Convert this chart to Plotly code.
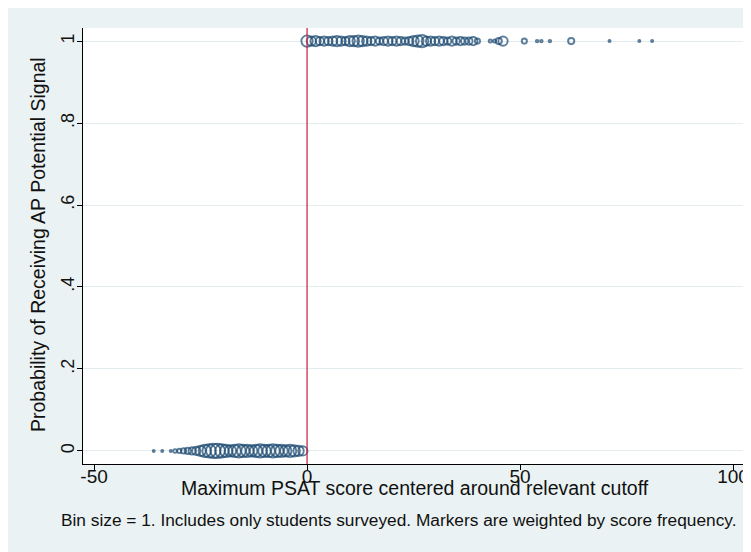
import plotly.graph_objects as go

# Data: score bins (centered at cutoff) and frequencies (marker weights)
below_x = [-36, -34, -32, -31, -30, -29, -28, -27, -26, -25, -24, -23, -22, -21, -20,
           -19, -18, -17, -16, -15, -14, -13, -12, -11, -10, -9, -8, -7, -6, -5,
           -4, -3, -2, -1]
below_freq = [4, 4, 4, 12, 16, 25, 36, 49, 64, 100, 144, 169, 196, 196, 169,
              144, 121, 144, 169, 144, 144, 121, 144, 169, 144, 144, 169, 144, 144, 121,
              144, 121, 100, 81]
below_p = [0] * len(below_x)

above_x = [0, 1, 2, 3, 4, 5, 6, 7, 8, 9, 10, 11, 12, 13, 14, 15, 16, 17, 18, 19,
           20, 21, 22, 23, 24, 25, 26, 27, 28, 29, 30, 31, 32, 33, 34, 35, 36, 37, 38, 39,
           40, 43, 44, 45, 46, 51, 54, 55, 57, 62, 71, 78, 81]
above_freq = [121, 81, 100, 64, 81, 64, 81, 100, 81, 64, 100, 100, 121, 100, 81, 64, 81, 49, 64, 81,
              64, 81, 64, 49, 64, 100, 121, 144, 81, 81, 64, 81, 64, 49, 81, 49, 64, 49, 49, 64,
              25, 9, 9, 36, 81, 25, 6, 6, 6, 36, 4, 4, 4]
above_p = [1] * len(above_x)

y_ticks = [0, 0.2, 0.4, 0.6, 0.8, 1]
y_ticktext = ["0", ".2", ".4", ".6", ".8", "1"]
x_ticks = [-50, 0, 50, 100]
x_ticktext = ["-50", "0", "50", "100"]

x_title = "Maximum PSAT score centered around relevant cutoff"
y_title = "Probability of Receiving AP Potential Signal"
note = "Bin size = 1. Includes only students surveyed. Markers are weighted by score frequency."

NAVY = "#1a476f"
BG = "#eaf2f3"
FONT = "Liberation Sans, Arial, sans-serif"
MAXD = 14.5
sizeref = 2.0 * max(below_freq + above_freq) / (MAXD ** 2)

fig = go.Figure()
for xs, ys, fr in [(below_x, below_p, below_freq), (above_x, above_p, above_freq)]:
    fig.add_trace(go.Scatter(
        x=xs, y=ys, mode="markers",
        marker=dict(symbol="circle-open", size=fr, sizemode="area", sizeref=sizeref,
                    color=NAVY, line=dict(color=NAVY, width=1.9)),
        showlegend=False, hoverinfo="x+y",
    ))

# The page body has an 8px margin, which forms the white page strip at top/left.
OFF = 8
W, H = 751 - OFF, 552 - OFF
ML, MT = 83 - OFF, 28 - OFF
pw, ph = 662, 436
MR, MB = W - ML - pw, H - MT - ph


def px_x(page_px):
    return (page_px - OFF - ML) / pw


def px_y(page_py):
    return 1 - (page_py - OFF - MT) / ph


fig.add_shape(type="line", x0=0, x1=0, xref="x", yref="paper", y0=0, y1=1,
              line=dict(color="#c41e3a", width=1.2), layer="above")

fig.update_layout(
    width=W, height=H,
    margin=dict(l=ML, r=MR, t=MT, b=MB, autoexpand=False),
    paper_bgcolor=BG, plot_bgcolor="white",
    font=dict(family=FONT, color="#111111"),
    xaxis=dict(range=[-52.6, 102.8], tickvals=x_ticks, ticktext=x_ticktext, automargin=False,
               showgrid=False, zeroline=False, showline=True, linecolor="black", linewidth=1,
               ticks="outside", ticklen=5, tickcolor="black", tickfont=dict(size=19),
               ticklabelstandoff=-10),
    yaxis=dict(range=[-0.032, 1.032], tickvals=y_ticks, ticktext=y_ticktext, automargin=False,
               showgrid=True, gridcolor="#e3ecef", gridwidth=1,
               zeroline=False, showline=True, linecolor="black", linewidth=1,
               ticks="outside", ticklen=5, tickcolor="black", tickangle=-90,
               tickfont=dict(size=18), ticklabelstandoff=-4),
    annotations=[
        dict(text=x_title, xref="paper", yref="paper", x=px_x(415), y=px_y(488),
             xanchor="center", yanchor="middle", showarrow=False, font=dict(size=19.5)),
        dict(text=y_title, xref="paper", yref="paper", x=px_x(38), y=px_y(245),
             xanchor="center", yanchor="middle", textangle=-90, showarrow=False,
             font=dict(size=19.5)),
        dict(text=note, xref="paper", yref="paper", x=px_x(398), y=px_y(520),
             xanchor="center", yanchor="middle", showarrow=False, font=dict(size=17.3)),
    ],
)

fig.write_html("out.html")
